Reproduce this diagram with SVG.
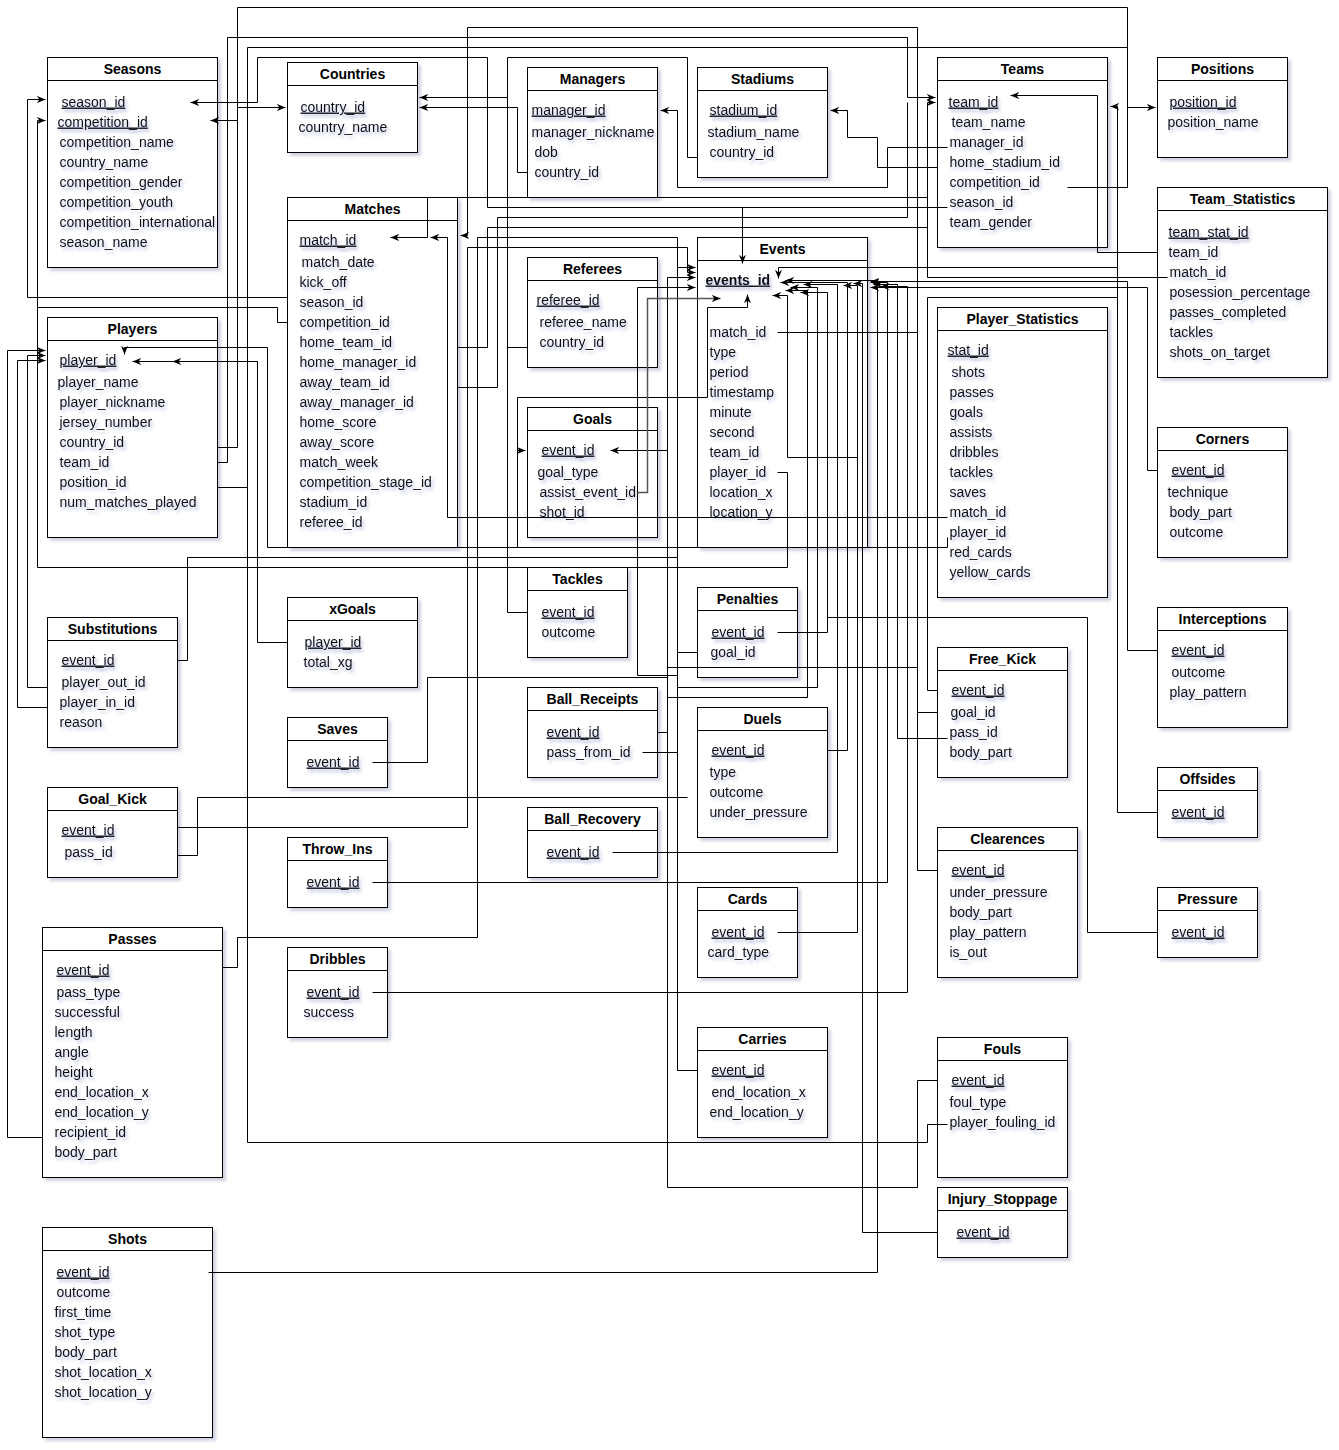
<svg xmlns="http://www.w3.org/2000/svg" width="1339" height="1450" viewBox="0 0 1339 1450">
<defs>
<filter id="bs" x="-10%" y="-10%" width="130%" height="130%"><feDropShadow dx="3" dy="3" stdDeviation="1.5" flood-color="#7a80a8" flood-opacity="0.35"/></filter>
<filter id="ts" x="-10%" y="-30%" width="130%" height="170%"><feDropShadow dx="2" dy="3" stdDeviation="1.6" flood-color="#3f4fa8" flood-opacity="0.35"/></filter>
<marker id="ar" viewBox="0 0 10 8" refX="10" refY="4" markerWidth="9" markerHeight="7" orient="auto" markerUnits="userSpaceOnUse"><path d="M0,0 L10,4 L0,8 L3,4 z" fill="#000"/></marker>
<style>
.b{fill:#fff;stroke:#000;stroke-width:1;filter:url(#bs)}
.h{fill:none;stroke:#000;stroke-width:1}
.t{font-family:"Liberation Sans",Arial,sans-serif;font-size:14px;font-weight:bold;text-anchor:middle;fill:#000;transform:translate(0px,-1px)}
.f{font-family:"Liberation Sans",Arial,sans-serif;font-size:14px;fill:#111;filter:url(#ts);transform:translate(0px,-1px)}
.k{text-decoration:underline}
.e{font-weight:bold}
#links path{fill:none;stroke:#000;stroke-width:1}
#links path.a{marker-end:url(#ar)}
#links path.g{stroke:#555;stroke-width:1.5}
</style>
</defs>
<rect width="1339" height="1450" fill="#fff"/>

<g id="nodes" transform="translate(0.5 0.5)">
<g id="seasons"><rect class="b" x="47" y="57" width="170" height="210"/><path class="h" d="M47,80H217"/><text class="t" x="132" y="74">Seasons</text>
<text class="f k" x="61" y="107">season_id</text><text class="f k" x="57" y="127">competition_id</text><text class="f" x="59" y="147">competition_name</text><text class="f" x="59" y="167">country_name</text><text class="f" x="59" y="187">competition_gender</text><text class="f" x="59" y="207">competition_youth</text><text class="f" x="59" y="227">competition_international</text><text class="f" x="59" y="247">season_name</text></g>

<g id="countries"><rect class="b" x="287" y="62" width="130" height="90"/><path class="h" d="M287,85H417"/><text class="t" x="352" y="79">Countries</text>
<text class="f k" x="300" y="112">country_id</text><text class="f" x="298" y="132">country_name</text></g>

<g id="managers"><rect class="b" x="527" y="67" width="130" height="130"/><path class="h" d="M527,90H657"/><text class="t" x="592" y="84">Managers</text>
<text class="f k" x="531" y="115">manager_id</text><text class="f" x="531" y="137">manager_nickname</text><text class="f" x="534" y="157">dob</text><text class="f" x="534" y="177">country_id</text></g>

<g id="stadiums"><rect class="b" x="697" y="67" width="130" height="110"/><path class="h" d="M697,90H827"/><text class="t" x="762" y="84">Stadiums</text>
<text class="f k" x="709" y="115">stadium_id</text><text class="f" x="707" y="137">stadium_name</text><text class="f" x="709" y="157">country_id</text></g>

<g id="teams"><rect class="b" x="937" y="57" width="170" height="190"/><path class="h" d="M937,80H1107"/><text class="t" x="1022" y="74">Teams</text>
<text class="f k" x="948" y="107">team_id</text><text class="f" x="951" y="127">team_name</text><text class="f" x="949" y="147">manager_id</text><text class="f" x="949" y="167">home_stadium_id</text><text class="f" x="949" y="187">competition_id</text><text class="f" x="949" y="207">season_id</text><text class="f" x="949" y="227">team_gender</text></g>

<g id="positions"><rect class="b" x="1157" y="57" width="130" height="100"/><path class="h" d="M1157,80H1287"/><text class="t" x="1222" y="74">Positions</text>
<text class="f k" x="1169" y="107">position_id</text><text class="f" x="1167" y="127">position_name</text></g>

<g id="team_statistics"><rect class="b" x="1157" y="187" width="170" height="190"/><path class="h" d="M1157,210H1327"/><text class="t" x="1242" y="204">Team_Statistics</text>
<text class="f k" x="1168" y="237">team_stat_id</text><text class="f" x="1168" y="257">team_id</text><text class="f" x="1169" y="277">match_id</text><text class="f" x="1169" y="297">posession_percentage</text><text class="f" x="1169" y="317">passes_completed</text><text class="f" x="1169" y="337">tackles</text><text class="f" x="1169" y="357">shots_on_target</text></g>

<g id="matches"><rect class="b" x="287" y="197" width="170" height="350"/><path class="h" d="M287,220H457"/><text class="t" x="372" y="214">Matches</text>
<text class="f k" x="299" y="245">match_id</text><text class="f" x="301" y="267">match_date</text><text class="f" x="299" y="287">kick_off</text><text class="f" x="299" y="307">season_id</text><text class="f" x="299" y="327">competition_id</text><text class="f" x="299" y="347">home_team_id</text><text class="f" x="299" y="367">home_manager_id</text><text class="f" x="299" y="387">away_team_id</text><text class="f" x="299" y="407">away_manager_id</text><text class="f" x="299" y="427">home_score</text><text class="f" x="299" y="447">away_score</text><text class="f" x="299" y="467">match_week</text><text class="f" x="299" y="487">competition_stage_id</text><text class="f" x="299" y="507">stadium_id</text><text class="f" x="299" y="527">referee_id</text></g>

<g id="referees"><rect class="b" x="527" y="257" width="130" height="110"/><path class="h" d="M527,280H657"/><text class="t" x="592" y="274">Referees</text>
<text class="f k" x="536" y="305">referee_id</text><text class="f" x="539" y="327">referee_name</text><text class="f" x="539" y="347">country_id</text></g>

<g id="events"><rect class="b" x="697" y="237" width="170" height="310"/><path class="h" d="M697,260H867"/><text class="t" x="782" y="254">Events</text>
<text class="f k e" x="705" y="285">events_id</text><text class="f" x="709" y="337">match_id</text><text class="f" x="709" y="357">type</text><text class="f" x="709" y="377">period</text><text class="f" x="709" y="397">timestamp</text><text class="f" x="709" y="417">minute</text><text class="f" x="709" y="437">second</text><text class="f" x="709" y="457">team_id</text><text class="f" x="709" y="477">player_id</text><text class="f" x="709" y="497">location_x</text><text class="f" x="709" y="517">location_y</text></g>

<g id="player_statistics"><rect class="b" x="937" y="307" width="170" height="290"/><path class="h" d="M937,330H1107"/><text class="t" x="1022" y="324">Player_Statistics</text>
<text class="f k" x="947" y="355">stat_id</text><text class="f" x="951" y="377">shots</text><text class="f" x="949" y="397">passes</text><text class="f" x="949" y="417">goals</text><text class="f" x="949" y="437">assists</text><text class="f" x="949" y="457">dribbles</text><text class="f" x="949" y="477">tackles</text><text class="f" x="949" y="497">saves</text><text class="f" x="949" y="517">match_id</text><text class="f" x="949" y="537">player_id</text><text class="f" x="949" y="557">red_cards</text><text class="f" x="949" y="577">yellow_cards</text></g>

<g id="players"><rect class="b" x="47" y="317" width="170" height="220"/><path class="h" d="M47,340H217"/><text class="t" x="132" y="334">Players</text>
<text class="f k" x="59" y="365">player_id</text><text class="f" x="57" y="387">player_name</text><text class="f" x="59" y="407">player_nickname</text><text class="f" x="59" y="427">jersey_number</text><text class="f" x="59" y="447">country_id</text><text class="f" x="59" y="467">team_id</text><text class="f" x="59" y="487">position_id</text><text class="f" x="59" y="507">num_matches_played</text></g>

<g id="goals"><rect class="b" x="527" y="407" width="130" height="130"/><path class="h" d="M527,430H657"/><text class="t" x="592" y="424">Goals</text>
<text class="f k" x="541" y="455">event_id</text><text class="f" x="537" y="477">goal_type</text><text class="f" x="539" y="497">assist_event_id</text><text class="f" x="539" y="517">shot_id</text></g>

<g id="corners"><rect class="b" x="1157" y="427" width="130" height="130"/><path class="h" d="M1157,450H1287"/><text class="t" x="1222" y="444">Corners</text>
<text class="f k" x="1171" y="475">event_id</text><text class="f" x="1167" y="497">technique</text><text class="f" x="1169" y="517">body_part</text><text class="f" x="1169" y="537">outcome</text></g>

<g id="tackles"><rect class="b" x="527" y="567" width="100" height="90"/><path class="h" d="M527,590H627"/><text class="t" x="577" y="584">Tackles</text>
<text class="f k" x="541" y="617">event_id</text><text class="f" x="541" y="637">outcome</text></g>

<g id="penalties"><rect class="b" x="697" y="587" width="100" height="90"/><path class="h" d="M697,610H797"/><text class="t" x="747" y="604">Penalties</text>
<text class="f k" x="711" y="637">event_id</text><text class="f" x="710" y="657">goal_id</text></g>

<g id="xgoals"><rect class="b" x="287" y="597" width="130" height="90"/><path class="h" d="M287,620H417"/><text class="t" x="352" y="614">xGoals</text>
<text class="f k" x="304" y="647">player_id</text><text class="f" x="303" y="667">total_xg</text></g>

<g id="substitutions"><rect class="b" x="47" y="617" width="130" height="130"/><path class="h" d="M47,640H177"/><text class="t" x="112" y="634">Substitutions</text>
<text class="f k" x="61" y="665">event_id</text><text class="f" x="61" y="687">player_out_id</text><text class="f" x="59" y="707">player_in_id</text><text class="f" x="59" y="727">reason</text></g>

<g id="interceptions"><rect class="b" x="1157" y="607" width="130" height="120"/><path class="h" d="M1157,630H1287"/><text class="t" x="1222" y="624">Interceptions</text>
<text class="f k" x="1171" y="655">event_id</text><text class="f" x="1171" y="677">outcome</text><text class="f" x="1169" y="697">play_pattern</text></g>

<g id="free_kick"><rect class="b" x="937" y="647" width="130" height="130"/><path class="h" d="M937,670H1067"/><text class="t" x="1002" y="664">Free_Kick</text>
<text class="f k" x="951" y="695">event_id</text><text class="f" x="950" y="717">goal_id</text><text class="f" x="949" y="737">pass_id</text><text class="f" x="949" y="757">body_part</text></g>

<g id="ball_receipts"><rect class="b" x="527" y="687" width="130" height="90"/><path class="h" d="M527,710H657"/><text class="t" x="592" y="704">Ball_Receipts</text>
<text class="f k" x="546" y="737">event_id</text><text class="f" x="546" y="757">pass_from_id</text></g>

<g id="duels"><rect class="b" x="697" y="707" width="130" height="130"/><path class="h" d="M697,730H827"/><text class="t" x="762" y="724">Duels</text>
<text class="f k" x="711" y="755">event_id</text><text class="f" x="709" y="777">type</text><text class="f" x="709" y="797">outcome</text><text class="f" x="709" y="817">under_pressure</text></g>

<g id="saves"><rect class="b" x="287" y="717" width="100" height="70"/><path class="h" d="M287,740H387"/><text class="t" x="337" y="734">Saves</text>
<text class="f k" x="306" y="767">event_id</text></g>

<g id="offsides"><rect class="b" x="1157" y="767" width="100" height="70"/><path class="h" d="M1157,790H1257"/><text class="t" x="1207" y="784">Offsides</text>
<text class="f k" x="1171" y="817">event_id</text></g>

<g id="goal_kick"><rect class="b" x="47" y="787" width="130" height="90"/><path class="h" d="M47,810H177"/><text class="t" x="112" y="804">Goal_Kick</text>
<text class="f k" x="61" y="835">event_id</text><text class="f" x="64" y="857">pass_id</text></g>

<g id="ball_recovery"><rect class="b" x="527" y="807" width="130" height="70"/><path class="h" d="M527,830H657"/><text class="t" x="592" y="824">Ball_Recovery</text>
<text class="f k" x="546" y="857">event_id</text></g>

<g id="clearences"><rect class="b" x="937" y="827" width="140" height="150"/><path class="h" d="M937,850H1077"/><text class="t" x="1007" y="844">Clearences</text>
<text class="f k" x="951" y="875">event_id</text><text class="f" x="949" y="897">under_pressure</text><text class="f" x="949" y="917">body_part</text><text class="f" x="949" y="937">play_pattern</text><text class="f" x="949" y="957">is_out</text></g>

<g id="throw_ins"><rect class="b" x="287" y="837" width="100" height="70"/><path class="h" d="M287,860H387"/><text class="t" x="337" y="854">Throw_Ins</text>
<text class="f k" x="306" y="887">event_id</text></g>

<g id="cards"><rect class="b" x="697" y="887" width="100" height="90"/><path class="h" d="M697,910H797"/><text class="t" x="747" y="904">Cards</text>
<text class="f k" x="711" y="937">event_id</text><text class="f" x="707" y="957">card_type</text></g>

<g id="pressure"><rect class="b" x="1157" y="887" width="100" height="70"/><path class="h" d="M1157,910H1257"/><text class="t" x="1207" y="904">Pressure</text>
<text class="f k" x="1171" y="937">event_id</text></g>

<g id="passes"><rect class="b" x="42" y="927" width="180" height="250"/><path class="h" d="M42,950H222"/><text class="t" x="132" y="944">Passes</text>
<text class="f k" x="56" y="975">event_id</text><text class="f" x="56" y="997">pass_type</text><text class="f" x="54" y="1017">successful</text><text class="f" x="54" y="1037">length</text><text class="f" x="54" y="1057">angle</text><text class="f" x="54" y="1077">height</text><text class="f" x="54" y="1097">end_location_x</text><text class="f" x="54" y="1117">end_location_y</text><text class="f" x="54" y="1137">recipient_id</text><text class="f" x="54" y="1157">body_part</text></g>

<g id="dribbles"><rect class="b" x="287" y="947" width="100" height="90"/><path class="h" d="M287,970H387"/><text class="t" x="337" y="964">Dribbles</text>
<text class="f k" x="306" y="997">event_id</text><text class="f" x="303" y="1017">success</text></g>

<g id="carries"><rect class="b" x="697" y="1027" width="130" height="110"/><path class="h" d="M697,1050H827"/><text class="t" x="762" y="1044">Carries</text>
<text class="f k" x="711" y="1075">event_id</text><text class="f" x="711" y="1097">end_location_x</text><text class="f" x="709" y="1117">end_location_y</text></g>

<g id="fouls"><rect class="b" x="937" y="1037" width="130" height="140"/><path class="h" d="M937,1060H1067"/><text class="t" x="1002" y="1054">Fouls</text>
<text class="f k" x="951" y="1085">event_id</text><text class="f" x="949" y="1107">foul_type</text><text class="f" x="949" y="1127">player_fouling_id</text></g>

<g id="injury_stoppage"><rect class="b" x="937" y="1187" width="130" height="70"/><path class="h" d="M937,1210H1067"/><text class="t" x="1002" y="1204">Injury_Stoppage</text>
<text class="f k" x="956" y="1237">event_id</text></g>

<g id="shots"><rect class="b" x="42" y="1227" width="170" height="210"/><path class="h" d="M42,1250H212"/><text class="t" x="127" y="1244">Shots</text>
<text class="f k" x="56" y="1277">event_id</text><text class="f" x="56" y="1297">outcome</text><text class="f" x="54" y="1317">first_time</text><text class="f" x="54" y="1337">shot_type</text><text class="f" x="54" y="1357">body_part</text><text class="f" x="54" y="1377">shot_location_x</text><text class="f" x="54" y="1397">shot_location_y</text></g>
</g>

<g id="links" transform="translate(0.5 0.5)">
<!-- lookup tables: seasons, countries, teams, positions -->
<path d="M217,447H237V7H1127V187H1067"/>
<path class="a" d="M237,120H210"/>
<path class="a" d="M217,462H227V37H907V97H935"/>
<path d="M217,487H247"/>
<path d="M947,1124H927V1142H247V47H1127"/>
<path class="a" d="M947,207H487V57H257V102H190"/>
<path class="a" d="M237,107H285"/>
<path class="a" d="M697,157H687V57H507V97H419"/>
<path d="M527,347H507"/>
<path d="M527,612H507V97"/>
<path class="a" d="M527,172H517V107H419"/>
<path class="a" d="M947,147H887V187H677V110H660"/>
<path class="a" d="M937,167H877V137H847V110H830"/>
<path class="a" d="M1157,252H1097V95H1010"/>
<path class="a" d="M1127,107H1155"/>
<path class="a" d="M1117,267V106H1110"/>
<path class="a" d="M1157,812H1117V267H778V278"/>
<!-- matches -->
<path class="a" d="M1167,277H927V197H427V237H390"/>
<path class="a" d="M947,517H447V237H430"/>
<path class="a" d="M777,332H917V27H467V235H460"/>
<path class="a" d="M457,347H487V227H927V102H935"/>
<path d="M457,387H497V217H907V102"/>
<!-- players -->
<path class="a" d="M947,537V547H267V347H124V354"/>
<path class="a" d="M287,642H257V361H132"/>
<path class="a" d="M257,361H172"/>
<path class="a" d="M42,1137H7V350H45"/>
<path class="a" d="M47,707H17V360H45"/>
<path class="a" d="M47,687H27V355H45"/>
<path class="a" d="M287,297H27V99H45"/>
<path d="M287,322H277V307H37"/>
<path class="a" d="M777,472H787V567H37V120H45"/>
<!-- event detail tables: left side of events -->
<path d="M177,660H187V557H677"/>
<path class="a" d="M177,827H467V247H687V272H695"/>
<path d="M177,855H197V797H687"/>
<path class="a" d="M222,967H237V937H477V237H677V267H695"/>
<path d="M697,1070H677V267"/>
<path d="M642,752H677"/>
<path d="M697,652H677"/>
<path class="a" d="M667,1187V277H695"/>
<path d="M937,1080H917V1187H667"/>
<path class="a" d="M667,450H610"/>
<path d="M937,712H917V667H667"/>
<path d="M372,762H427V677H667"/>
<path d="M657,732H667"/>
<path class="a" d="M667,697H807V290H785"/>
<path class="a" d="M677,687H817V287H790"/>
<path class="a" d="M637,675V287H695"/>
<path d="M637,675H677"/>
<path class="a" d="M517,547V397H707V307H747V294"/>
<path class="a" d="M517,450H525"/>
<path class="a g" d="M637,492H647V298H720"/>
<path class="a" d="M742,207V263"/>
<!-- event detail tables: right side of events -->
<path class="a" d="M857,457H787V295H772"/>
<path class="a" d="M777,632H827V292H800"/>
<path class="a" d="M612,852H837V284H803"/>
<path class="a" d="M827,750H847V282H780"/>
<path class="a" d="M777,932H857V285H843"/>
<path class="a" d="M937,1232H862V283H853"/>
<path class="a" d="M208,1272H877V280H785"/>
<path class="a" d="M372,882H887V282H870"/>
<path class="a" d="M947,738H897V284H873"/>
<path class="a" d="M372,992H907V286H880"/>
<path d="M937,870H917V332"/>
<path d="M937,690H927V297H1117"/>
<path class="a" d="M1157,650H1127V281H870"/>
<path class="a" d="M1157,470H1147V287H870"/>
<path d="M1157,932H1087V617H827"/>
</g>
</svg>
